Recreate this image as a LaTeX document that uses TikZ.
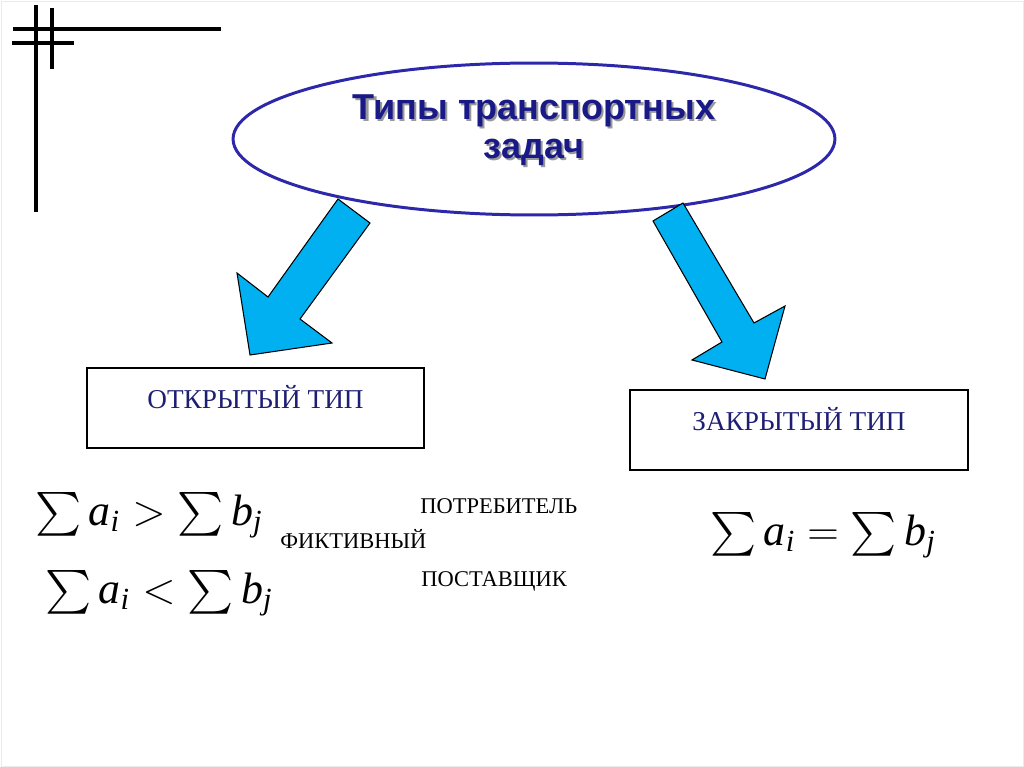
\documentclass[tikz,border=0pt]{standalone}
\usepackage{fontspec}
\usepackage{amsmath}
\setmainfont{Liberation Serif}
\newfontfamily\titlefont{Liberation Sans}
\usetikzlibrary{shapes.geometric}
\definecolor{ovalblue}{RGB}{45,40,170}
\definecolor{titleblue}{RGB}{25,25,135}
\definecolor{labelblue}{RGB}{30,30,115}
\definecolor{arrowblue}{RGB}{0,176,240}
\begin{document}
\begin{tikzpicture}[x=0.02cm, y=-0.02cm,
  corner/.style={line width=2.3pt},
  oval/.style={ellipse, draw=ovalblue, line width=1.7pt, minimum width=12.04cm, minimum height=3.04cm},
  title/.style={align=center, text=titleblue, font=\titlefont\bfseries\fontsize{20.5pt}{22pt}\selectfont},
  box/.style={draw, line width=1.2pt, minimum width=6.74cm, minimum height=1.6cm, text=labelblue,
    text height=10pt, text depth=9pt, font=\fontsize{15.5pt}{18pt}\selectfont},
  blockarrow/.style={fill=arrowblue, draw=black, line width=0.6pt, line join=miter},
  formula/.style={anchor=base west, inner sep=0pt, font=\fontsize{25pt}{30pt}\selectfont},
  side/.style={anchor=base west, inner sep=0pt, font=\fontsize{12.8pt}{15pt}\selectfont}
]
  \useasboundingbox (0,0) rectangle (1024,767);
  \draw[black!8, line width=0.5pt] (1,1) rectangle (1023,766);

  % Corner lines
  \draw[corner] (36,5) -- (36,212);
  \draw[corner] (52,8) -- (52,69);
  \draw[corner] (13,29) -- (221,29);
  \draw[corner] (12,43) -- (74,43);

  % Title ellipse
  \node[oval] (types) at (534,139) {};
  \node[title, text=black!40] at ([xshift=1.2pt, yshift=-1.2pt]types.center) [yshift=5pt] {Типы транспортных\\задач};
  \node[title] (title) at (types.center) [yshift=5pt] {Типы транспортных\\задач};

  % Block arrows
  \draw[blockarrow] (338,199) -- (370,223) -- (300,319) -- (332,343) -- (250,355)
    -- (237,273) -- (268,297) -- cycle;
  \draw[blockarrow] (683,203) -- (653,221) -- (722,342) -- (692,360) -- (765,379)
    -- (785,306) -- (754,323) -- cycle;

  % Types
  \node[box] (open) at (255.5,408) {ОТКРЫТЫЙ ТИП};
  \node[box, minimum width=6.76cm] (closed) at (799,430) {ЗАКРЫТЫЙ ТИП};

  % Balance conditions
  \node[formula] (more) at (35,525) {$\sum\textit{a}_{\textit{i}} > \sum\textit{b}_{\textit{j}}$};
  \node[formula] (less) at (45,603) {$\sum\textit{a}_{\textit{i}} < \sum\textit{b}_{\textit{j}}$};
  \node[formula] (equal) at (710,545) {$\sum\textit{a}_{\textit{i}} = \sum\textit{b}_{\textit{j}}$};

  % Fictitious party
  \node[side] (consumer) at (420,513) {ПОТРЕБИТЕЛЬ};
  \node[side] (fict) at (280,548) {ФИКТИВНЫЙ};
  \node[side] (supplier) at (421,586) {ПОСТАВЩИК};

\end{tikzpicture}
\end{document}
